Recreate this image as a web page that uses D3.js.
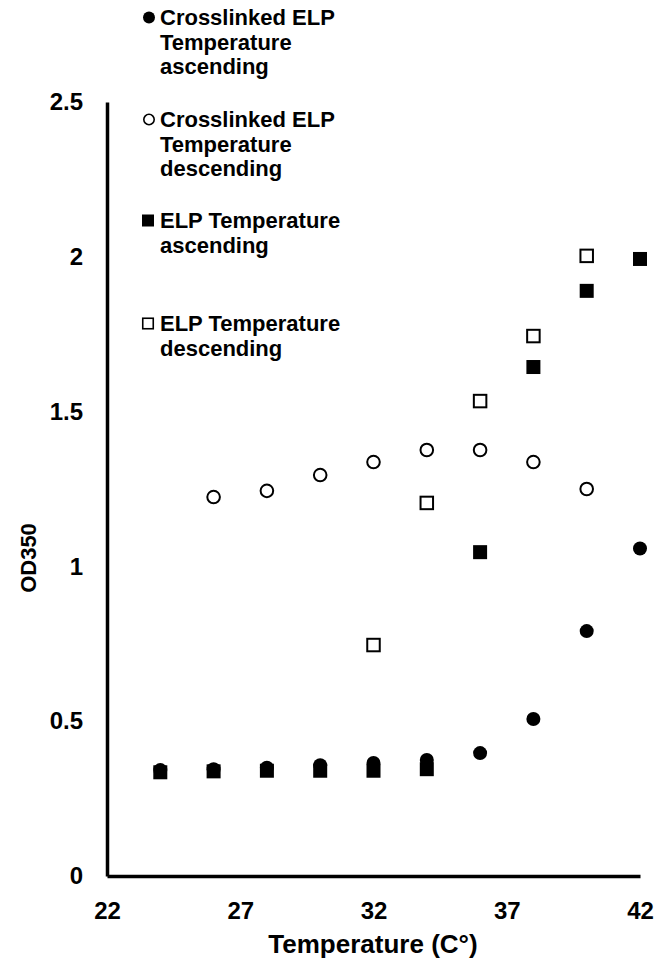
<!DOCTYPE html>
<html><head><meta charset="utf-8">
<script src="https://cdn.jsdelivr.net/npm/d3@7/dist/d3.min.js"></script>
<style>html,body{margin:0;padding:0;background:#fff;}</style>
</head><body>
<script>
const temps = [24, 26, 28, 30, 32, 34, 36, 38, 40, 42];
const xlAsc  = [0.342, 0.345, 0.35, 0.358, 0.365, 0.375, 0.397, 0.507, 0.791, 1.058];
const xlDescT = [26, 28, 30, 32, 34, 36, 38, 40];
const xlDesc = [1.224, 1.244, 1.295, 1.337, 1.376, 1.376, 1.337, 1.25];
const elpAsc = [0.335, 0.338, 0.34, 0.34, 0.34, 0.345, 1.046, 1.644, 1.89, 1.993];
const elpDescT = [32, 34, 36, 38, 40];
const elpDesc = [0.746, 1.205, 1.534, 1.744, 2.003];
const xTicks = [22, 27, 32, 37, 42];
const yTicks = [0, 0.5, 1, 1.5, 2, 2.5];
const legendItems = [
  {shape:"circle", fill:true, lines:["Crosslinked ELP","Temperature","ascending"]},
  {shape:"circle", fill:false, lines:["Crosslinked ELP","Temperature","descending"]},
  {shape:"square", fill:true, lines:["ELP Temperature","ascending"]},
  {shape:"square", fill:false, lines:["ELP Temperature","descending"]}
];

const W = 656, H = 964;
const FF = "'Liberation Sans', Arial, sans-serif";
const svg = d3.select("body").append("svg").attr("width", W).attr("height", H)
  .style("font-family", FF);
const x = d3.scaleLinear().domain([22, 42]).range([107, 640]);
const y = d3.scaleLinear().domain([0, 2.5]).range([876, 102]);

// axes
const xa = svg.append("g").attr("transform", `translate(0,${y(0)})`)
  .call(d3.axisBottom(x).tickValues(xTicks).tickSize(0).tickPadding(26).tickFormat(d3.format("d")));
const ya = svg.append("g").attr("transform", `translate(${x(22)},0)`)
  .call(d3.axisLeft(y).tickValues(yTicks).tickSize(0).tickPadding(24).tickFormat(d => String(d)));
[xa, ya].forEach(a => {
  a.select(".domain").attr("stroke", "#000").attr("stroke-width", 3.5);
  a.selectAll("text").attr("font-size", 24).attr("font-weight", "bold").attr("fill", "#000")
   .attr("font-family", FF);
});

svg.append("text").attr("x", 373).attr("y", 953).attr("text-anchor", "middle")
  .attr("font-size", 26).attr("font-weight", "bold").text("Temperature (C°)");
svg.append("text").attr("transform", "translate(36,558) rotate(-90)").attr("text-anchor", "middle")
  .attr("font-size", 22).attr("font-weight", "bold").text("OD350");

function drawCircles(xs, vals, filled) {
  svg.append("g").selectAll("circle").data(vals).join("circle")
    .attr("cx", (d, i) => x(xs[i])).attr("cy", d => y(d)).attr("r", filled ? 7 : 6.3)
    .attr("fill", filled ? "#000" : "#fff").attr("stroke", "#000").attr("stroke-width", filled ? 0 : 2);
}
function drawSquares(xs, vals, filled) {
  const s = filled ? 14 : 12.5;
  svg.append("g").selectAll("rect").data(vals).join("rect")
    .attr("x", (d, i) => x(xs[i]) - s / 2).attr("y", d => y(d) - s / 2).attr("width", s).attr("height", s)
    .attr("fill", filled ? "#000" : "#fff").attr("stroke", "#000").attr("stroke-width", filled ? 0 : 2);
}
drawSquares(temps, elpAsc, true);
drawCircles(temps, xlAsc, true);
drawSquares(elpDescT, elpDesc, false);
drawCircles(xlDescT, xlDesc, false);

// legend
const legBase = [25, 127, 228, 331];
const lineGap = 24.5;
legendItems.forEach((it, k) => {
  const g = svg.append("g");
  const cy = legBase[k] - 7.5;
  if (it.shape === "circle") {
    g.append("circle").attr("cx", 149).attr("cy", cy).attr("r", it.fill ? 6 : 5.2)
      .attr("fill", it.fill ? "#000" : "#fff").attr("stroke", "#000").attr("stroke-width", it.fill ? 0 : 1.6);
  } else {
    const s = it.fill ? 12 : 10.5;
    g.append("rect").attr("x", 148 - s / 2).attr("y", cy - s / 2).attr("width", s).attr("height", s)
      .attr("fill", it.fill ? "#000" : "#fff").attr("stroke", "#000").attr("stroke-width", it.fill ? 0 : 1.6);
  }
  it.lines.forEach((t, j) => {
    g.append("text").attr("x", 160).attr("y", legBase[k] + j * lineGap).attr("font-size", 22)
      .attr("font-weight", "bold").text(t);
  });
});
</script>
</body></html>
